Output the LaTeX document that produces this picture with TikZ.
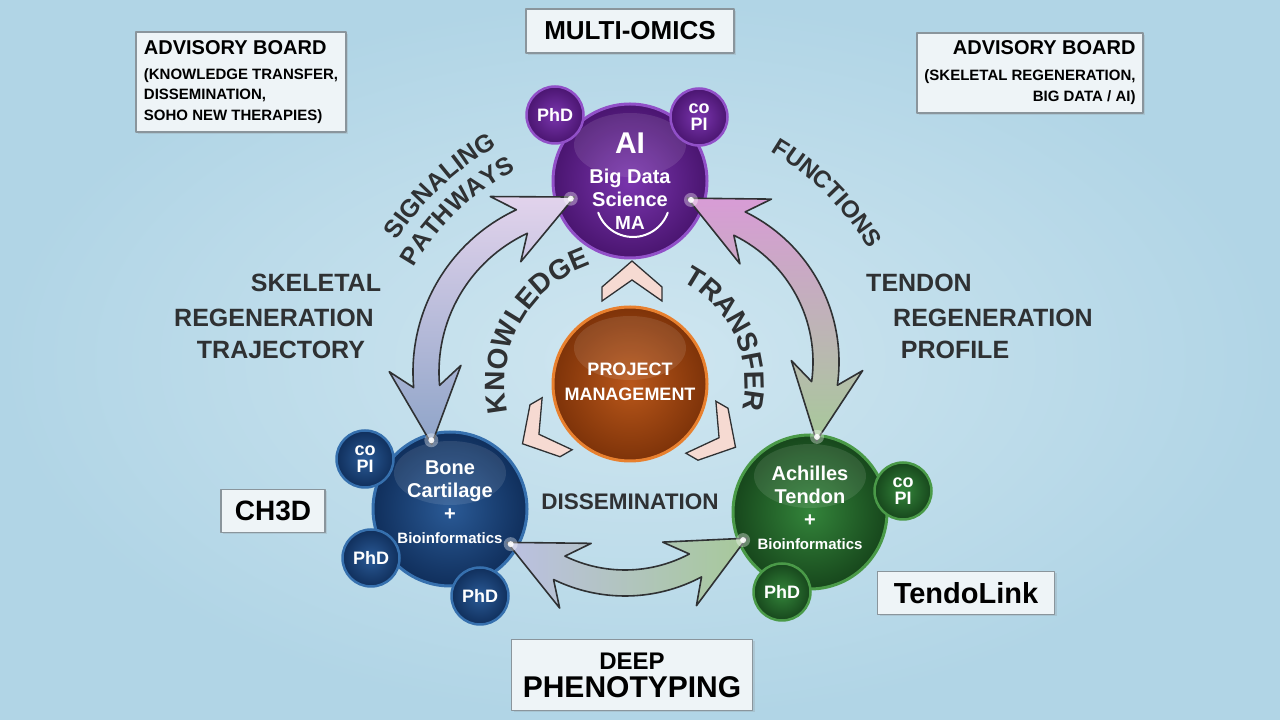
\documentclass[tikz,border=0pt]{standalone}
\usepackage{fontspec}
\setmainfont{Liberation Sans}
\usetikzlibrary{calc,decorations.text,shadows}

\definecolor{bgout}{HTML}{B1D5E6}
\definecolor{bgin}{HTML}{CFE6F0}
\definecolor{boxfill}{HTML}{EEF4F7}
\definecolor{boxline}{HTML}{8A959C}
\definecolor{inkc}{HTML}{2F3133}
\definecolor{aiin}{HTML}{7A35AE}
\definecolor{aiout}{HTML}{4A1570}
\definecolor{airim}{HTML}{9150C8}
\definecolor{bonein}{HTML}{2A5A96}
\definecolor{boneout}{HTML}{102F5C}
\definecolor{bonerim}{HTML}{3670AE}
\definecolor{tenin}{HTML}{33843A}
\definecolor{tenout}{HTML}{17471C}
\definecolor{tenrim}{HTML}{4A9A48}
\definecolor{pmin}{HTML}{B9571A}
\definecolor{pmout}{HTML}{7E3309}
\definecolor{pmrim}{HTML}{E8802E}
\definecolor{chevc}{HTML}{F6DAD2}
\definecolor{lavc}{HTML}{E2D3EC}
\definecolor{steelc}{HTML}{8EA4C8}
\definecolor{pinkc}{HTML}{D89CD6}
\definecolor{sagec}{HTML}{A7C99A}
\definecolor{periwc}{HTML}{BBC0E2}

\newcommand{\fsz}[1]{\fontsize{#1}{#1}\selectfont}

% curved double arrow: centre, radius, start angle, end angle, shading
\newcommand{\ringarrow}[5]{%
  \pgfmathsetmacro{\rs}{sign(#4-#3)}%
  \pgfmathsetmacro{\ta}{#3-90*\rs}%
  \pgfmathsetmacro{\tb}{#4+90*\rs}%
  \pgfmathsetmacro{\ro}{#2+13}%
  \pgfmathsetmacro{\ri}{#2-13}%
  \path[#5, draw=inkc, line width=1.6pt, line join=round]
    ($(#1)+(#3:\ro)$) arc[start angle=#3, end angle=#4, radius=\ro]
    -- ($(#1)+(#4:#2)+(#4:36)+(\tb:-18)$)
    -- ($(#1)+(#4:#2)+(\tb:58)$)
    -- ($(#1)+(#4:#2)+(#4:-36)+(\tb:-18)$)
    -- ($(#1)+(#4:\ri)$) arc[start angle=#4, end angle=#3, radius=\ri]
    -- ($(#1)+(#3:#2)+(#3:-36)+(\ta:-18)$)
    -- ($(#1)+(#3:#2)+(\ta:58)$)
    -- ($(#1)+(#3:#2)+(#3:36)+(\ta:-18)$)
    -- cycle;
  \fill[white, opacity=.35] ($(#1)+(#3:#2)+(\ta:54)$) circle (7);
  \fill[white, opacity=.9] ($(#1)+(#3:#2)+(\ta:54)$) circle (3);
  \fill[white, opacity=.35] ($(#1)+(#4:#2)+(\tb:54)$) circle (7);
  \fill[white, opacity=.9] ($(#1)+(#4:#2)+(\tb:54)$) circle (3);
}

\begin{document}
\begin{tikzpicture}[x=1pt,y=1pt,line join=round,
  board/.style={draw=boxline, fill=boxfill, line width=1.3pt, inner sep=7pt, text=black,
    drop shadow={opacity=.2, shadow xshift=2pt, shadow yshift=-2pt}},
  tag/.style={board, font=\bfseries\fsz{28}},
  core/.style={circle, minimum size=154, line width=3pt, text=white, align=center,
    font=\bfseries\fontsize{20}{23}\selectfont,
    path picture={\fill[white, opacity=.1] ([yshift=36]path picture bounding box.center)
      ellipse [x radius=56, y radius=32];}},
  sat/.style={circle, minimum size=57, inner sep=0pt, line width=2.5pt, text=white,
    align=center, font=\bfseries\fontsize{18}{17}\selectfont},
  chev/.style={fill=chevc, draw=inkc, line width=1.3pt, line join=miter},
  lbl/.style={text=inkc, font=\bfseries\fsz{25}},
  arctext/.style={decorate, decoration={text along path, text align=center,
    text color=inkc, text={#1}}},
]
  % background
  \shade[inner color=bgin, outer color=bgout] (0,0) rectangle (1280,720);
  \useasboundingbox (0,0) rectangle (1280,720);

  \coordinate (leftc) at (592,348);
  \coordinate (rightc) at (672,358);
  \coordinate (lowc) at (625,287);
  \coordinate (ringc) at (630,330);

  % boxes
  \node[board, align=left, minimum width=210, minimum height=100,
    font=\bfseries\fontsize{15}{20.5}\selectfont] (advl) at (241,638)
    {{\fsz{20}ADVISORY BOARD}\\[4pt](KNOWLEDGE TRANSFER,\\DISSEMINATION,\\SOHO NEW THERAPIES)};
  \node[board, align=right, minimum width=226, minimum height=80,
    font=\bfseries\fontsize{15}{21}\selectfont] (advr) at (1030,647)
    {{\fsz{20}ADVISORY BOARD}\\[5pt](SKELETAL REGENERATION,\\BIG DATA / AI)};
  \node[tag, minimum width=208, minimum height=44, font=\bfseries\fsz{26}] (omics) at (630,689) {MULTI-OMICS};
  \node[tag, minimum width=104, minimum height=43] (ch3d) at (273,209) {CH3D};
  \node[tag, minimum width=177, minimum height=43, font=\bfseries\fsz{29}] (tendolink) at (966,127) {TendoLink};
  \node[board, align=center, minimum width=241, minimum height=71, inner sep=3pt,
    font=\bfseries\fontsize{24}{28}\selectfont] (deep) at (632,45)
    {DEEP\\{\fsz{30}PHENOTYPING}};

  % side labels
  \node[lbl] (skel1) at (316,437) {SKELETAL};
  \node[lbl] (skel2) at (274,402) {REGENERATION};
  \node[lbl] (skel3) at (281,370) {TRAJECTORY};
  \node[lbl] (tend1) at (919,437) {TENDON};
  \node[lbl] (tend2) at (993,402) {REGENERATION};
  \node[lbl] (tend3) at (955,370) {PROFILE};
  \node[lbl, font=\bfseries\fsz{22.5}] (dissem) at (630,218) {DISSEMINATION};

  % circles
  \node[core, inner color=pmin, outer color=pmout, draw=pmrim, font=\bfseries\fontsize{18}{25}\selectfont,
    text depth=5pt] (pm) at (630,336) {PROJECT\\MANAGEMENT};
  \node[core, inner color=aiin, outer color=aiout, draw=airim] (ai) at (630,539)
    {{\fsz{30}AI}\\[7pt]Big Data\\Science\\[0pt]{\fsz{19}MA}};
  \draw[white, line width=2pt, line cap=round] ([shift={(200:37)}]ai.center) ++(3,-19)
    arc[start angle=200, end angle=340, radius=37];
  \node[core, inner color=bonein, outer color=boneout, draw=bonerim, text depth=14pt] (bone) at (450,211)
    {Bone\\Cartilage\\+\\{\fsz{15}Bioinformatics}};
  \node[core, inner color=tenin, outer color=tenout, draw=tenrim, text depth=8pt] (tendon) at (810,208)
    {Achilles\\Tendon\\+\\{\fsz{15}Bioinformatics}};

  \node[sat, inner color=aiin, outer color=aiout, draw=airim] (aiphd) at (555,605) {PhD};
  \node[sat, inner color=aiin, outer color=aiout, draw=airim] (aicopi) at (699,603) {co\\PI};
  \node[sat, inner color=bonein, outer color=boneout, draw=bonerim] (bonecopi) at (365,261) {co\\PI};
  \node[sat, inner color=bonein, outer color=boneout, draw=bonerim] (bonephd) at (371,162) {PhD};
  \node[sat, inner color=bonein, outer color=boneout, draw=bonerim] (bonephdb) at (480,124) {PhD};
  \node[sat, inner color=tenin, outer color=tenout, draw=tenrim] (tencopi) at (903,229) {co\\PI};
  \node[sat, inner color=tenin, outer color=tenout, draw=tenrim] (tenphd) at (782,128) {PhD};

  % chevrons round project management
  \foreach \a in {0,120,240}
    \draw[chev, rotate around={\a:(pm.center)}] (602,433) -- (632,459) -- (662,433)
      -- (662,419) -- (632,440) -- (602,419) -- cycle;

  % arrows
  \ringarrow{leftc}{166}{115}{185}{top color=lavc, bottom color=steelc}
  \ringarrow{rightc}{154}{64}{-8}{top color=pinkc, bottom color=sagec}
  \ringarrow{lowc}{150}{244}{298}{left color=periwc, right color=sagec}

  % curved labels
  \path[arctext={|\bfseries\fsz{28}|KNOWLEDGE}] ([shift={(205:125)}]pm.center)
    arc[start angle=205, end angle=96, radius=125];
  \path[arctext={|\bfseries\fsz{28}|TRANSFER}] ([shift={(75:115)}]pm.center)
    arc[start angle=75, end angle=-25, radius=115];
  \path[arctext={|\bfseries\fsz{25}|SIGNALING}] ([shift={(160:277)}]ringc)
    arc[start angle=160, end angle=106, radius=277];
  \path[arctext={|\bfseries\fsz{25}|PATHWAYS}] ([shift={(160:248)}]ringc)
    arc[start angle=160, end angle=108, radius=248];
  \path[arctext={|\bfseries\fsz{24}|FUNCTIONS}] ([shift={(75:277)}]ringc)
    arc[start angle=75, end angle=15, radius=277];
\end{tikzpicture}
\end{document}
